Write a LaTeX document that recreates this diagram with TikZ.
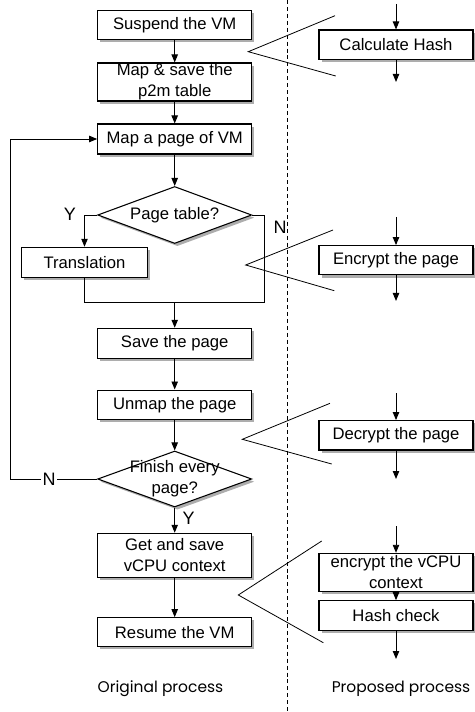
\documentclass[tikz,border=0pt]{standalone}
\usepackage{fontspec}
\setmainfont{Liberation Sans}
\newfontfamily\labfont{Poppins}
\usetikzlibrary{shapes.geometric,arrows.meta,shadows}
\begin{document}
\begin{tikzpicture}[x=0.75pt,y=-0.75pt,
  every node/.style={font=\fontsize{12.5}{15.5}\selectfont},
  shad/.style={drop shadow={shadow xshift=2pt,shadow yshift=-2pt,opacity=0.4,fill=black!80}},
  pbox/.style={draw,line width=0.8pt,fill=white,shad,inner sep=0pt,align=center,minimum width=115.5pt},
  dia/.style={diamond,draw,line width=0.8pt,fill=white,shad,inner sep=0pt,minimum width=115.5pt,minimum height=42.75pt},
  arr/.style={-{Triangle[length=6pt,width=4.8pt]},line width=0.7pt},
  ln/.style={line width=0.7pt},
  call/.style={line width=0.6pt},
  yn/.style={fill=white,inner sep=1pt,font=\fontsize{13.5}{15}\selectfont},
  lab/.style={font=\labfont\fontsize{11.6}{13}\selectfont}
]
\useasboundingbox (0,0) rectangle (474,712);
% dashed divider
\draw[line width=0.6pt,dash pattern=on 3pt off 2.2pt] (287.3,0) coordinate (dt) -- (287.3,712) coordinate (db);

% left column
\node[pbox,minimum height=21.75pt] (s1) at (174.7,25.3) {Suspend the VM};
\node[pbox,minimum height=28.5pt] (s2) at (174.7,82) {Map \& save the\\p2m table};
\node[pbox,minimum height=22.5pt] (s3) at (174.7,139) {Map a page of VM};
\node[dia] (d1) at (174.7,215) {};
\node (d1t) at (174.7,215) {Page table?};
\node[pbox,minimum width=94.2pt,minimum height=22.5pt] (tr) at (84.5,262.3) {Translation};
\node[pbox,minimum height=22.5pt] (sv) at (174.7,343.3) {Save the page};
\node[pbox,minimum height=22pt] (um) at (174.7,404.7) {Unmap the page};
\node[dia,minimum height=42pt] (d2) at (174.7,479) {};
\node[align=center] (d2t) at (174.7,479) {Finish every\\page?};
\node[pbox,minimum height=33pt] (gs) at (174.7,555.3) {Get and save\\vCPU context};
\node[pbox,minimum height=21.75pt] (rs) at (174.7,632.2) {Resume the VM};

\coordinate (jl) at (84.5,302);
\coordinate (jr) at (264,302);
\coordinate (jm) at (174.7,302);
\coordinate (lp) at (10,479);

\draw[arr] (s1) -- (s2);
\draw[arr] (s2) -- (s3);
\draw[arr] (s3) -- (d1.north);
\draw[arr] (d1.west) -| (tr.north);
\draw[ln] (d1.east) -| (jr) -- (jl) -- (tr.south);
\draw[arr] (jm) -- (sv);
\draw[arr] (sv) -- (um);
\draw[arr] (um) -- (d2.north);
\draw[arr] (d2.west) -- (lp) |- (s3.west);
\draw[arr] (d2.south) -- (gs);
\draw[arr] (gs) -- (rs);

\node[yn] (y1) at (70,214) {Y};
\node[yn,fill=none] (n1) at (280,227) {N};
\node[yn] (n2) at (49,479) {N};
\node[yn,inner sep=0.5pt] (y2) at (188.5,518) {Y};

% right column
\node[pbox,minimum height=22pt] (ch) at (396,44.7) {Calculate Hash};
\node[pbox,minimum height=22pt] (ep) at (396,260.3) {Encrypt the page};
\node[pbox,minimum height=22pt] (dp) at (396,435.3) {Decrypt the page};
\node[pbox,minimum height=28.3pt] (ev) at (396,572.2) {encrypt the vCPU\\context};
\node[pbox,minimum height=22.5pt] (hc) at (396,615.7) {Hash check};

\coordinate (a1) at (396,4);
\coordinate (b1) at (396,82);
\coordinate (a2) at (396,217);
\coordinate (b2) at (396,301);
\coordinate (a3) at (396,393);
\coordinate (b3) at (396,479);
\coordinate (a4) at (396,526);
\coordinate (b4) at (396,659);

\draw[arr] (a1) -- (ch);
\draw[arr] (ch) -- (b1);
\draw[arr] (a2) -- (ep);
\draw[arr] (ep) -- (b2);
\draw[arr] (a3) -- (dp);
\draw[arr] (dp) -- (b3);
\draw[arr] (a4) -- (ev);
\draw[arr] (ev.south) -- (hc.north);
\draw[arr] (hc) -- (b4);

% callouts
\coordinate (c1a) at (335,15.7); \coordinate (c1p) at (248.3,51.7); \coordinate (c1b) at (335.7,76);
\coordinate (c2a) at (333,230); \coordinate (c2p) at (245.7,265); \coordinate (c2b) at (334.3,290.7);
\coordinate (c3a) at (330,403.3); \coordinate (c3p) at (242.3,439.3); \coordinate (c3b) at (331.7,464);
\coordinate (c4a) at (321.7,541); \coordinate (c4p) at (238.3,595); \coordinate (c4b) at (323.3,642.7);
\draw[call] (c1a) -- (c1p) -- (c1b);
\draw[call] (c2a) -- (c2p) -- (c2b);
\draw[call] (c3a) -- (c3p) -- (c3b);
\draw[call] (c4a) -- (c4p) -- (c4b);

\node[lab] (ol) at (160.5,689) {Original process};
\node[lab] (pl) at (401,689) {Proposed process};
\end{tikzpicture}
\end{document}
